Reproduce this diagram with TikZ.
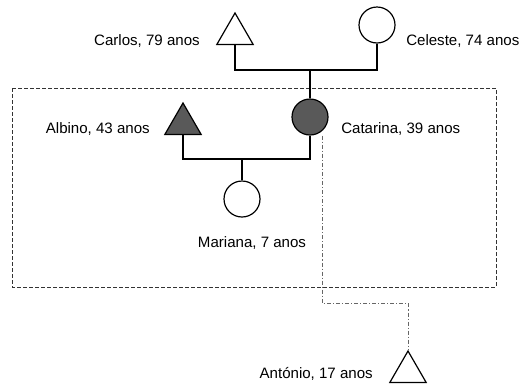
\documentclass[tikz,border=0pt]{standalone}
\usepackage{fontspec}
\setmainfont{Liberation Sans}
\usetikzlibrary{shapes.geometric,positioning,calc}

\begin{document}
\begin{tikzpicture}[x=0.75pt,y=0.75pt,yscale=-1,xscale=1,
  male/.style={regular polygon,regular polygon sides=3,draw,inner sep=0pt,minimum size=31.5pt,line width=0.9pt},
  female/.style={circle,draw,inner sep=0pt,minimum size=27pt,line width=0.9pt},
  ill/.style={fill=black!65},
  tag/.style={inner sep=0pt,font=\fontsize{11.3}{13}\selectfont},
  tie/.style={line width=0.9pt},
  house/.style={dash pattern={on 3pt off 1.5pt},line width=0.6pt,black!80},
  away/.style={dash pattern={on 3pt off 1.5pt on 0.8pt off 1.5pt},line width=0.6pt,black!60}]
\useasboundingbox (0,0) rectangle (521,383);

%Shape: Rectangle [household]
\draw [house] (12,88) rectangle (496,287);

%Grandparents
\node [male] (carlos) at (235,34) {};
\node [female] (celeste) at (377,25) {};
\node [tag,anchor=base east] (carlos tag) at (200,45) {Carlos, 79 anos};
\node [tag,anchor=base west] (celeste tag) at (406,45) {Celeste, 74 anos};

%Parents
\node [male,ill] (albino) at (183,124) {};
\node [female,ill] (catarina) at (310,117) {};
\node [tag,anchor=base east] (albino tag) at (150,133) {Albino, 43 anos};
\node [tag,anchor=base west] (catarina tag) at (341,133) {Catarina, 39 anos};

%Children
\node [female] (mariana) at (242,199) {};
\node [tag,anchor=base] (mariana tag) at (252,247) {Mariana, 7 anos};
\node [male] (antonio) at (408,372) {};
\node [tag,anchor=base east] (antonio tag) at (373,378) {António, 17 anos};

%Straight Lines [bars]
\coordinate (top bar) at (310,70);
\coordinate (low bar) at (242,159);
\coordinate (elbow) at (408,303);
\draw [tie] (carlos.side 2) |- (top bar) -| (celeste.south);
\draw [tie] (top bar) -- (catarina.north);
\draw [tie] (albino.side 2) |- (low bar) -| (catarina.south);
\draw [tie] (low bar) -- (mariana.north);
%Dotted [outside the house]
\draw [away] ($(catarina.south)+(12,0)$) |- (elbow) -- (antonio.corner 1);
\end{tikzpicture}
\end{document}
